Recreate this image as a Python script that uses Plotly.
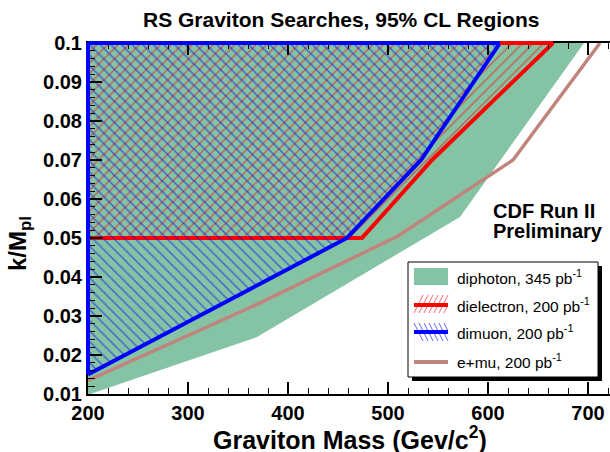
import plotly.graph_objects as go

# 95% CL excluded regions in the (graviton mass, k/M_pl) plane
diphoton_mass = [200, 369, 572, 696, 200]
diphoton_k = [0.0098, 0.0246, 0.0554, 0.1, 0.1]

dielectron_mass = [200, 474, 544, 665, 200, 200]
dielectron_k = [0.05, 0.05, 0.07, 0.1, 0.1, 0.05]

dimuon_mass = [200, 459, 533, 612, 200, 200]
dimuon_k = [0.015, 0.05, 0.07, 0.1, 0.1, 0.015]

emu_mass = [200, 365, 510, 625, 712]
emu_k = [0.0135, 0.0325, 0.0505, 0.07, 0.1]

legend_labels = [
    "diphoton, 345 pb<sup>-1</sup>",
    "dielectron, 200 pb<sup>-1</sup>",
    "dimuon, 200 pb<sup>-1</sup>",
    "e+mu, 200 pb<sup>-1</sup>",
]

x_ticks = [200, 300, 400, 500, 600, 700]
y_ticks = [0.01, 0.02, 0.03, 0.04, 0.05, 0.06, 0.07, 0.08, 0.09, 0.1]
y_ticktext = ["0.01", "0.02", "0.03", "0.04", "0.05", "0.06", "0.07", "0.08", "0.09", "0.1"]

GREEN = "#84c4a4"
RED = "#ff0000"
BLUE = "#0000ff"
ROSY = "#c0847c"
FONT = "Liberation Sans, Arial, Helvetica, sans-serif"

# plot area in pixels: left 88, right 610, top 43, bottom 394
L, R, T, B = 88, 610, 43, 394


def px(x):
    return (x - L) / (R - L)


def py(y):
    return (B - y) / (B - T)


fig = go.Figure()

fig.add_trace(go.Scatter(
    x=diphoton_mass, y=diphoton_k, mode="none", fill="toself",
    fillcolor=GREEN, showlegend=False, hoverinfo="skip"
))

fig.add_trace(go.Scatter(
    x=emu_mass, y=emu_k, mode="lines",
    line=dict(color=ROSY, width=3.5), showlegend=False
))

fig.add_trace(go.Scatter(
    x=dielectron_mass, y=dielectron_k, mode="lines", fill="toself",
    fillcolor="rgba(0,0,0,0)",
    fillpattern=dict(shape="/", fgcolor=RED, bgcolor="rgba(0,0,0,0)",
                     size=7.5, solidity=0.2),
    line=dict(color=RED, width=4), showlegend=False
))

fig.add_trace(go.Scatter(
    x=dimuon_mass, y=dimuon_k, mode="lines", fill="toself",
    fillcolor="rgba(0,0,0,0)",
    fillpattern=dict(shape="\\", fgcolor=BLUE, bgcolor="rgba(0,0,0,0)",
                     size=7.5, solidity=0.2),
    line=dict(color=BLUE, width=4), showlegend=False
))

shapes = []
# thick outer edges of the hatched regions (not clipped at the frame)
shapes.append(dict(type="line", xref="x", yref="paper",
                   x0=dimuon_mass[3], x1=dielectron_mass[3], y0=1, y1=1,
                   line=dict(color=RED, width=4)))
shapes.append(dict(type="line", xref="x", yref="paper",
                   x0=dimuon_mass[4], x1=dimuon_mass[3], y0=1, y1=1,
                   line=dict(color=BLUE, width=4)))
shapes.append(dict(type="line", xref="paper", yref="y",
                   x0=0, x1=0, y0=dimuon_k[0], y1=dimuon_k[4],
                   line=dict(color=BLUE, width=4)))

# legend box with shadow
shapes.append(dict(type="rect", xref="paper", yref="paper",
                   x0=px(412), x1=px(602), y0=py(381), y1=py(266),
                   fillcolor="black", line=dict(width=0)))
shapes.append(dict(type="rect", xref="paper", yref="paper",
                   x0=px(408), x1=px(598), y0=py(377), y1=py(262),
                   fillcolor="white", line=dict(color="black", width=1)))
shapes.append(dict(type="rect", xref="paper", yref="paper",
                   x0=px(414), x1=px(448), y0=py(285), y1=py(268),
                   fillcolor=GREEN, line=dict(width=0)))
for i in range(7):
    x0 = 414 + 5 * i
    x1 = min(x0 + 9, 448)
    shapes.append(dict(type="line", xref="paper", yref="paper",
                       x0=px(x0), x1=px(x1),
                       y0=py(313), y1=py(313 - 2 * (x1 - x0)),
                       line=dict(color="rgba(255,0,0,0.6)", width=1)))
    shapes.append(dict(type="line", xref="paper", yref="paper",
                       x0=px(x0), x1=px(x1),
                       y0=py(323), y1=py(323 + 2 * (x1 - x0)),
                       line=dict(color="rgba(0,0,255,0.6)", width=1)))
shapes.append(dict(type="line", xref="paper", yref="paper",
                   x0=px(414), x1=px(448), y0=py(305), y1=py(305),
                   line=dict(color=RED, width=4)))
shapes.append(dict(type="line", xref="paper", yref="paper",
                   x0=px(414), x1=px(448), y0=py(332), y1=py(332),
                   line=dict(color=BLUE, width=4)))
shapes.append(dict(type="line", xref="paper", yref="paper",
                   x0=px(414), x1=px(448), y0=py(362), y1=py(362),
                   line=dict(color=ROSY, width=4)))

annotations = []
for label, yy in zip(legend_labels, [277, 305, 332, 361]):
    annotations.append(dict(xref="paper", yref="paper", x=px(455), y=py(yy),
                            xanchor="left", yanchor="middle", text=label,
                            showarrow=False,
                            font=dict(family=FONT, size=15.5, color="black")))

annotations.append(dict(xref="paper", yref="paper", x=px(341), y=py(19),
                        xanchor="center", yanchor="middle",
                        text="RS Graviton Searches, 95% CL Regions",
                        showarrow=False,
                        font=dict(family=FONT, size=21, color="black", weight="bold")))
annotations.append(dict(xref="paper", yref="paper", x=px(491), y=py(211),
                        xanchor="left", yanchor="middle", text="CDF Run II",
                        showarrow=False,
                        font=dict(family=FONT, size=20, color="black", weight="bold")))
annotations.append(dict(xref="paper", yref="paper", x=px(491), y=py(231),
                        xanchor="left", yanchor="middle", text="Preliminary",
                        showarrow=False,
                        font=dict(family=FONT, size=20, color="black", weight="bold")))
annotations.append(dict(xref="paper", yref="paper", x=px(350), y=py(438),
                        xanchor="center", yanchor="middle",
                        text="Graviton Mass (Gev/c<sup>2</sup>)",
                        showarrow=False,
                        font=dict(family=FONT, size=25, color="black", weight="bold")))
annotations.append(dict(xref="paper", yref="paper", x=px(19), y=py(244),
                        xanchor="center", yanchor="middle",
                        text="k/M<sub>pl</sub>", textangle=-90,
                        showarrow=False,
                        font=dict(family=FONT, size=24, color="black", weight="bold")))

fig.update_layout(
    width=610, height=452,
    margin=dict(l=L, r=610 - R, t=T, b=452 - B),
    plot_bgcolor="white", paper_bgcolor="white",
    shapes=shapes, annotations=annotations,
    showlegend=False,
)

fig.update_xaxes(
    range=[200, 200 + (R - L)], showgrid=False, zeroline=False,
    showline=True, linecolor="black", linewidth=2, mirror="ticks",
    ticks="inside", ticklen=12, tickwidth=1.5, tickcolor="black",
    tickvals=x_ticks,
    minor=dict(dtick=20, ticks="inside", ticklen=6, tickwidth=1.2, tickcolor="black"),
    tickfont=dict(family=FONT, size=20, color="black", weight="bold"),
)
fig.update_yaxes(
    range=[0.01, 0.1], showgrid=False, zeroline=False,
    showline=True, linecolor="black", linewidth=2,
    ticks="inside", ticklen=14, tickwidth=1.5, tickcolor="black",
    tickvals=y_ticks, ticktext=y_ticktext,
    minor=dict(dtick=0.002, ticks="inside", ticklen=7, tickwidth=1.2, tickcolor="black"),
    tickfont=dict(family=FONT, size=20, color="black", weight="bold"),
)

# the page body has a default 8px margin; remove it so the figure fills the window
fig.write_html("out.html", config={"displayModeBar": False},
               post_script="document.body.style.margin='0px';")
